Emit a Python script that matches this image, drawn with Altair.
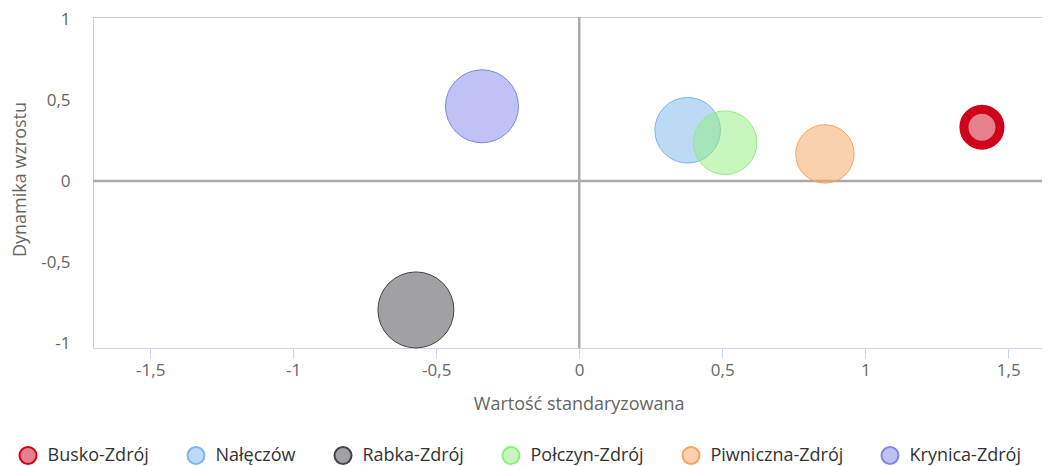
import altair as alt
import pandas as pd

names = ["Busko-Zdrój", "Nałęczów", "Rabka-Zdrój", "Połczyn-Zdrój", "Piwniczna-Zdrój", "Krynica-Zdrój"]
x_vals = [1.408, 0.379, -0.571, 0.510, 0.859, -0.340]
y_vals = [0.332, 0.313, -0.796, 0.236, 0.167, 0.461]
z_vals = [3.23, 10.73, 14.4, 10.08, 8.50, 13.28]
colors = ["#d0021b", "#7cb5ec", "#434348", "#90ed7d", "#f7a35c", "#8085e9"]
pale_colors = ["#e7808d", "#bedaf6", "#a1a1a4", "#c8f6be", "#fbd1ae", "#c0c2f4"]
x_ticks = [-1.5, -1, -0.5, 0, 0.5, 1, 1.5]
y_ticks = [-1, -0.5, 0, 0.5, 1]
zero_vals = [0]

df = pd.DataFrame({"name": names, "x": x_vals, "y": y_vals, "z": z_vals})
zero_df = pd.DataFrame({"v": zero_vals})

FONT = "Open Sans"
W, H = 949, 331
xscale = alt.Scale(domain=[-1.7, 1.618], nice=False, zero=False)
yscale = alt.Scale(domain=[-1.031, 1.012], nice=False, zero=False)
fmt = "replace(toString(datum.value), '.', ',')"

x_axis = alt.Axis(values=x_ticks, labelExpr=fmt, grid=False, domainColor="#ccd6eb",
                  tickColor="#ccd6eb", tickSize=10, labelColor="#666666", labelFont=FONT,
                  labelFontSize=17, labelPadding=4, title="Wartość standaryzowana",
                  titleFont=FONT, titleFontSize=18, titleFontWeight="normal",
                  titleColor="#666666", titlePadding=17, titleX=485.7, titleAlign="center")
y_axis = alt.Axis(values=y_ticks, labelExpr=fmt, grid=False, domainColor="#cccccc",
                  ticks=False, labelColor="#666666", labelFont=FONT, labelFontSize=17,
                  labelPadding=23, labelOffset=1, title="Dynamika wzrostu", titleFont=FONT,
                  titleFontSize=18, titleFontWeight="normal", titleColor="#666666",
                  titleX=-73, titleY=162, titleAngle=-90, titleAlign="center",
                  titleBaseline="middle")

top_border = alt.Chart(zero_df).mark_rule(color="#cccccc", strokeWidth=1).encode(
    x=alt.value(0), x2=alt.value(W), y=alt.value(0.5))

zero_h = alt.Chart(zero_df).mark_rule(color="#aaaaaa", strokeWidth=2.5).encode(
    y=alt.Y("v:Q", scale=yscale, axis=y_axis))
zero_v = alt.Chart(zero_df).mark_rule(color="#aaaaaa", strokeWidth=2.5).encode(
    x=alt.X("v:Q", scale=xscale, axis=x_axis))

bubbles = alt.Chart(df).mark_circle(fillOpacity=0.5, strokeOpacity=1).encode(
    x=alt.X("x:Q", scale=xscale, axis=x_axis),
    y=alt.Y("y:Q", scale=yscale, axis=y_axis),
    size=alt.Size("z:Q", scale=alt.Scale(domain=[0, 14.4], range=[0, 5776], zero=True), legend=None),
    fill=alt.Fill("name:N", scale=alt.Scale(domain=names, range=colors), legend=None),
    stroke=alt.Stroke("name:N", scale=alt.Scale(domain=names, range=colors), legend=None),
    strokeWidth=alt.condition(alt.datum.name == "Busko-Zdrój", alt.value(9), alt.value(1)),
    order=alt.Order("idx:Q"),
).transform_window(idx="row_number()")

legend = alt.Legend(orient="none", direction="horizontal", legendX=-74.5, legendY=429,
                    title=None, symbolType="circle", symbolSize=289, symbolStrokeWidth=2,
                    labelFont=FONT, labelFontSize=18, labelColor="#333333", labelOffset=10,
                    columnPadding=34, padding=0)

legend_layer = alt.Chart(df).mark_circle(size=0, opacity=1).encode(
    fill=alt.Fill("name:N", scale=alt.Scale(domain=names, range=pale_colors), legend=legend),
    stroke=alt.Stroke("name:N", scale=alt.Scale(domain=names, range=colors), legend=legend),
)

chart = alt.layer(top_border, zero_h, zero_v, bubbles, legend_layer).resolve_scale(
    fill="independent", stroke="independent"
).properties(
    width=W, height=H,
    autosize=alt.AutoSizeParams(type="none"),
    padding={"left": 85, "top": 9, "right": 0, "bottom": 118},
).configure_view(stroke=None).configure(background="white")

chart.save("out.html", embed_options={"renderer": "svg", "actions": False})
